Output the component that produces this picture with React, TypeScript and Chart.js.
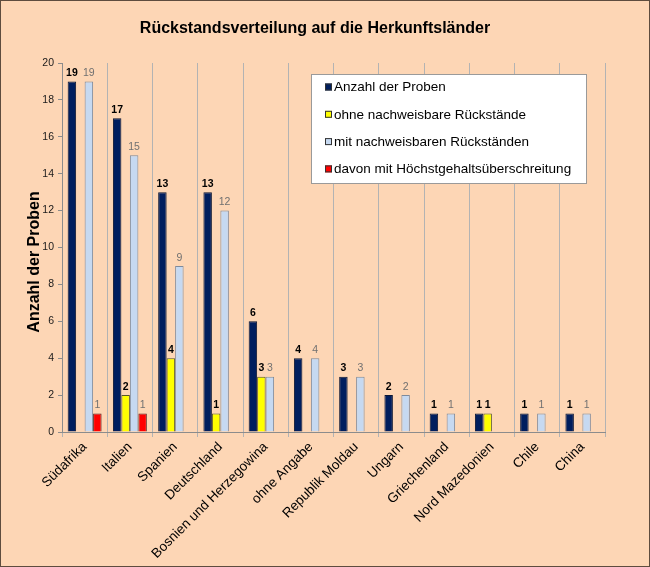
import { useEffect, useRef } from "react";
import { Chart, ChartConfiguration, Plugin, registerables } from "chart.js";

Chart.register(...registerables);

const countries = [
  "Südafrika",
  "Italien",
  "Spanien",
  "Deutschland",
  "Bosnien und Herzegowina",
  "ohne Angabe",
  "Republik Moldau",
  "Ungarn",
  "Griechenland",
  "Nord Mazedonien",
  "Chile",
  "China",
];
const anzahlProben = [19, 17, 13, 13, 6, 4, 3, 2, 1, 1, 1, 1];
const ohneRueckstaende = [0, 2, 4, 1, 3, 0, 0, 0, 0, 1, 0, 0];
const mitRueckstaenden = [19, 15, 9, 12, 3, 4, 3, 2, 1, 0, 1, 1];
const hoechstgehalt = [1, 1, 0, 0, 0, 0, 0, 0, 0, 0, 0, 0];
const seriesNames = [
  "Anzahl der Proben",
  "ohne nachweisbare Rückstände",
  "mit nachweisbaren Rückständen",
  "davon mit Höchstgehaltsüberschreitung",
];
const yTicks = [0, 2, 4, 6, 8, 10, 12, 14, 16, 18, 20];
const chartTitle = "Rückstandsverteilung auf die Herkunftsländer";
const yAxisTitle = "Anzahl der Proben";

const FONT = "'Liberation Sans', Arial, sans-serif";

// value labels above each bar (bold black for first two series, grey for the rest)
const valueLabels: Plugin = {
  id: "valueLabels",
  afterDatasetsDraw(chart) {
    const ctx = chart.ctx;
    ctx.save();
    ctx.textAlign = "center";
    ctx.textBaseline = "bottom";
    chart.data.datasets.forEach((ds, i) => {
      const meta = chart.getDatasetMeta(i);
      const strong = i < 2;
      ctx.font = `${strong ? "bold " : ""}10.5px ${FONT}`;
      ctx.fillStyle = strong ? "#000" : "#707070";
      meta.data.forEach((bar, j) => {
        const v = ds.data[j] as number | null;
        if (v == null) return;
        ctx.fillText(String(v), bar.x, bar.y - 3);
      });
    });
    ctx.restore();
  },
};

// chart title, y axis title and boxed legend inside the plot
const decorations: Plugin = {
  id: "decorations",
  afterDraw(chart) {
    const ctx = chart.ctx;
    ctx.save();
    ctx.fillStyle = "#000";
    ctx.font = `bold 16px ${FONT}`;
    ctx.textAlign = "center";
    ctx.textBaseline = "middle";
    ctx.fillText(chartTitle, 314, 28);

    ctx.translate(34, 261);
    ctx.rotate(-Math.PI / 2);
    ctx.fillText(yAxisTitle, 0, 0);
    ctx.setTransform(1, 0, 0, 1, 0, 0);
    ctx.scale(chart.currentDevicePixelRatio, chart.currentDevicePixelRatio);

    const bx = 310.5, by = 73.5, bw = 275, bh = 109;
    ctx.fillStyle = "#fff";
    ctx.fillRect(bx, by, bw, bh);
    ctx.strokeStyle = "#9a9a9a";
    ctx.lineWidth = 1;
    ctx.strokeRect(bx, by, bw, bh);

    ctx.font = `13.5px ${FONT}`;
    ctx.textAlign = "left";
    chart.data.datasets.forEach((ds, i) => {
      const cy = 86 + i * 27.3;
      ctx.fillStyle = ds.backgroundColor as string;
      ctx.fillRect(324, cy - 3.5, 7, 7);
      ctx.strokeStyle = "#333";
      ctx.strokeRect(324.5, cy - 3, 6, 6);
      ctx.fillStyle = "#000";
      ctx.fillText(ds.label as string, 333, cy + 0.5);
    });
    ctx.restore();
  },
};

const toBars = (arr: number[]) => arr.map(v => (v === 0 ? null : v));

export default function App() {
  const canvasRef = useRef<HTMLCanvasElement>(null);
  const chartRef = useRef<Chart | null>(null);

  useEffect(() => {
    if (!canvasRef.current) return;
    if (chartRef.current) chartRef.current.destroy();

    const config: ChartConfiguration = {
      type: "bar",
      data: {
        labels: countries,
        datasets: [
          { label: seriesNames[0], data: toBars(anzahlProben), backgroundColor: "#001E5E", borderColor: "#0b1633", borderWidth: 1 },
          { label: seriesNames[1], data: toBars(ohneRueckstaende), backgroundColor: "#FFFF00", borderColor: "#55552a", borderWidth: 1 },
          { label: seriesNames[2], data: toBars(mitRueckstaenden), backgroundColor: "#C6D9F1", borderColor: "#7d8a9c", borderWidth: 1 },
          { label: seriesNames[3], data: toBars(hoechstgehalt), backgroundColor: "#FF0000", borderColor: "#552222", borderWidth: 1 },
        ],
      },
      options: {
        responsive: false,
        animation: false,
        layout: { padding: { top: 62, right: 44, left: 0, bottom: 0 } },
        datasets: {
          bar: { categoryPercentage: 0.75, barPercentage: 1, grouped: true, skipNull: false },
        },
        plugins: {
          legend: { display: false },
          title: { display: false },
          tooltip: { enabled: false },
        },
        scales: {
          x: {
            afterFit: (scale: any) => { scale.height = 134; },
            grid: { offset: true, color: "#b3b3b3", tickLength: 5, drawOnChartArea: true },
            border: { color: "#8c8c8c" },
            ticks: {
              autoSkip: false,
              minRotation: 45,
              maxRotation: 45,
              padding: 2,
              color: "#000",
              font: { family: FONT, size: 13.5 },
            },
          },
          y: {
            min: 0,
            max: 20,
            afterFit: (scale: any) => { scale.width = 61; },
            afterBuildTicks: (scale: any) => { scale.ticks = yTicks.map(v => ({ value: v })); },
            grid: { drawOnChartArea: false, color: "#8c8c8c", tickLength: 4 },
            border: { color: "#8c8c8c" },
            ticks: { padding: 4, color: "#1a1a1a", font: { family: FONT, size: 10.5 } },
          },
        },
      },
      plugins: [valueLabels, decorations],
    };

    chartRef.current = new Chart(canvasRef.current, config);

    return () => {
      if (chartRef.current) {
        chartRef.current.destroy();
        chartRef.current = null;
      }
    };
  }, []);

  return (
    <div
      style={{
        position: "absolute",
        left: 0,
        top: 0,
        width: 650,
        height: 567,
        boxSizing: "border-box",
        border: "1px solid #5e4c3e",
        background: "#FDD6B5",
      }}
    >
      <canvas ref={canvasRef} width={648} height={565} style={{ display: "block" }} />
    </div>
  );
}
